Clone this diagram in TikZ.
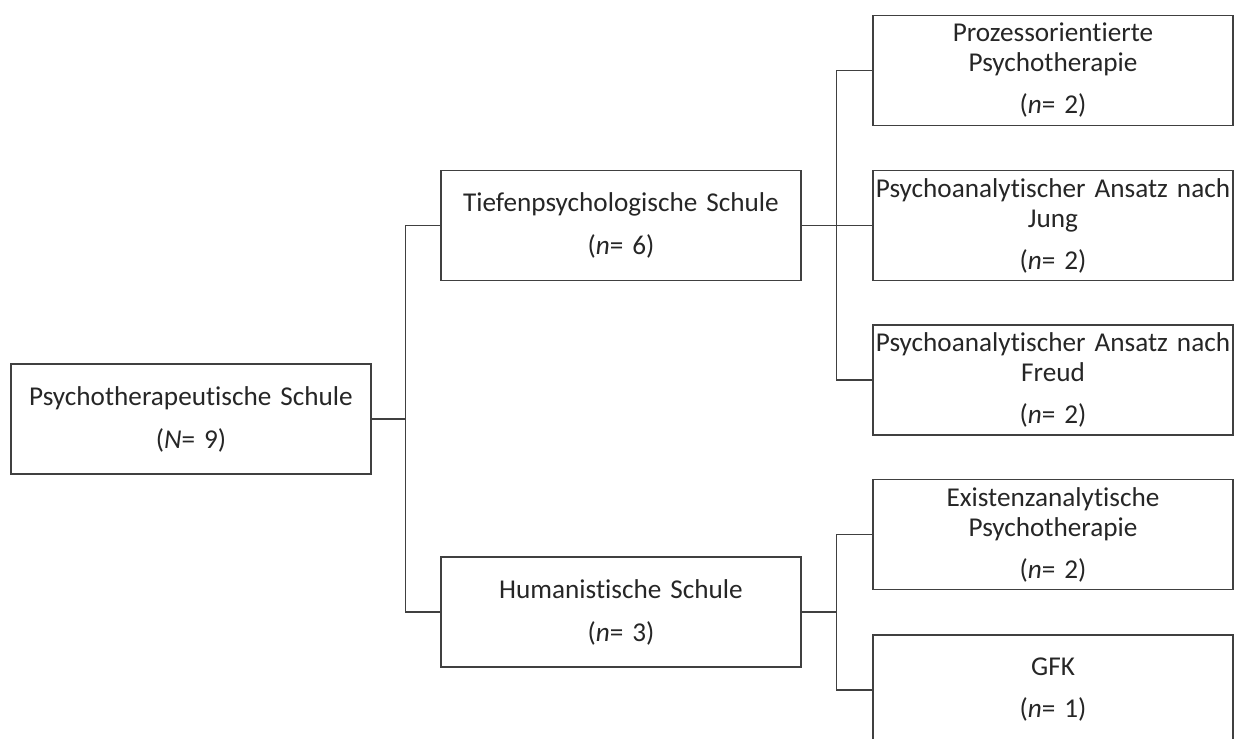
\documentclass[tikz,border=0pt]{standalone}
\usepackage{fontspec}
\setmainfont{Carlito}[Ligatures=NoCommon]

\tikzset{
  schule/.style={draw=black!75, line width=0.6pt, minimum width=180pt,
    minimum height=55pt, text width=180pt, inner sep=0pt, align=center,
    text=black!85, font=\fontsize{13.6}{15}\selectfont},
  ast/.style={draw=black!75, line width=0.6pt}
}

\begin{document}
\begin{tikzpicture}[x=0.5pt, y=-0.5pt]

\useasboundingbox (0,0) rectangle (1234,738);

% Wurzel
\node[schule] (psycho) at (191,419)
 {Psychotherapeutische Schule\\[6.5pt](\textit{N}= 9)};

% Schulen
\node[schule] (tiefen) at (621,225.5)
 {Tiefenpsychologische Schule\\[6.5pt](\textit{n}= 6)};
\node[schule] (human) at (621,612)
 {Humanistische Schule\\[6.5pt](\textit{n}= 3)};

% Ansaetze
\node[schule] (prozess) at (1053,70.5)
 {Prozessorientierte\\Psychotherapie\\[6pt](\textit{n}= 2)};
\node[schule] (jung) at (1053,225.5)
 {Psychoanalytischer Ansatz nach\\Jung\\[6pt](\textit{n}= 2)};
\node[schule] (freud) at (1053,380)
 {Psychoanalytischer Ansatz nach\\Freud\\[6pt](\textit{n}= 2)};
\node[schule] (existenz) at (1053,534.5)
 {Existenzanalytische\\Psychotherapie\\[6pt](\textit{n}= 2)};
\node[schule] (gfk) at (1053,690)
 {GFK\\[6pt](\textit{n}= 1)};

% Verbindungen
\draw[ast] (tiefen.west) -- ++(-35,0) |- (psycho.east);
\draw[ast] (human.west) -- ++(-35,0) |- (psycho.east);

\draw[ast] (prozess.west) -- ++(-36,0) |- (tiefen.east);
\draw[ast] (tiefen.east) -- (jung.west);
\draw[ast] (freud.west) -- ++(-36,0) |- (tiefen.east);

\draw[ast] (existenz.west) -- ++(-36,0) |- (human.east);
\draw[ast] (gfk.west) -- ++(-36,0) |- (human.east);

\end{tikzpicture}
\end{document}
